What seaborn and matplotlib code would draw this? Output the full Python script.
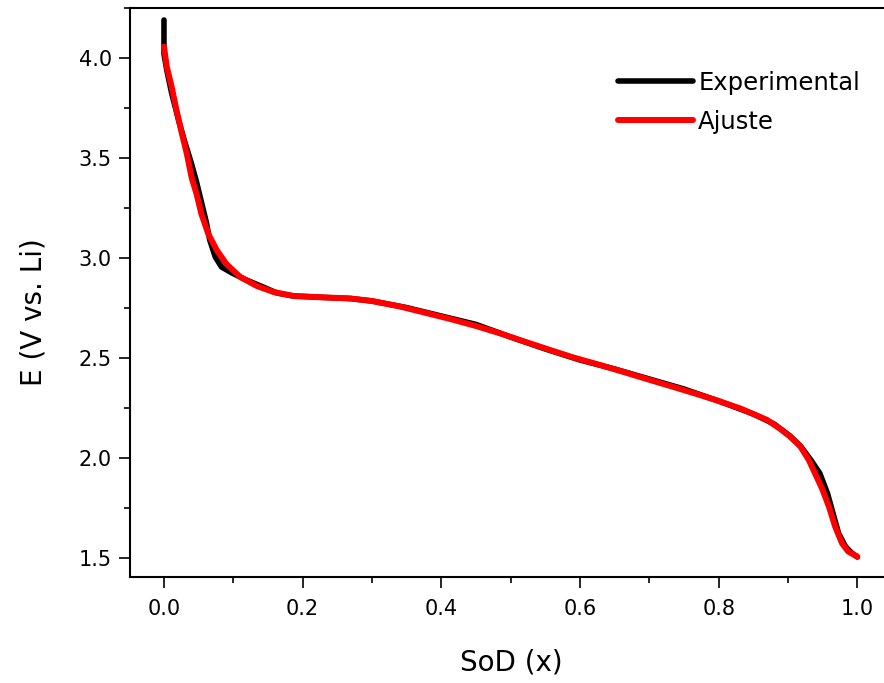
import matplotlib
matplotlib.use("Agg")
import matplotlib.pyplot as plt
from matplotlib.ticker import MultipleLocator, FormatStrFormatter
import pandas as pd
import seaborn as sns

# Discharge curve: measured data and fitted model
sod_exp = [0.0, 0.0, 0.004, 0.011, 0.021, 0.030, 0.039, 0.047, 0.054, 0.061,
           0.066, 0.074, 0.083, 0.098, 0.119, 0.143, 0.163, 0.187, 0.23, 0.27,
           0.30, 0.35, 0.40, 0.45, 0.50, 0.55, 0.60, 0.65, 0.70, 0.75, 0.80,
           0.85, 0.88, 0.903, 0.918, 0.933, 0.946, 0.957, 0.965, 0.973, 0.983,
           0.992, 1.0]
e_exp = [4.19, 4.02, 3.94, 3.825, 3.69, 3.58, 3.48, 3.38, 3.28, 3.18,
         3.09, 3.005, 2.955, 2.925, 2.89, 2.855, 2.825, 2.81, 2.803, 2.797,
         2.785, 2.752, 2.71, 2.668, 2.605, 2.545, 2.49, 2.445, 2.395, 2.345, 2.285,
         2.22, 2.17, 2.11, 2.06, 1.99, 1.923, 1.823, 1.723, 1.623, 1.557,
         1.525, 1.505]

sod_fit = [0.0, 0.004, 0.011, 0.018, 0.026, 0.033, 0.040, 0.047, 0.054, 0.064,
           0.076, 0.090, 0.110, 0.134, 0.158, 0.187, 0.23, 0.268, 0.30, 0.341,
           0.413, 0.45, 0.485, 0.52, 0.557, 0.59, 0.629, 0.665, 0.701, 0.737,
           0.773, 0.80, 0.831, 0.870, 0.889, 0.903, 0.918, 0.930, 0.939, 0.949,
           0.959, 0.968, 0.978, 0.987, 1.0]
e_fit = [4.057, 3.957, 3.857, 3.74, 3.62, 3.52, 3.40, 3.32, 3.22, 3.12,
         3.04, 2.97, 2.905, 2.86, 2.83, 2.81, 2.803, 2.798, 2.785, 2.757,
         2.695, 2.66, 2.623, 2.582, 2.54, 2.503, 2.465, 2.428, 2.39, 2.353,
         2.315, 2.285, 2.248, 2.19, 2.145, 2.107, 2.057, 1.99, 1.923, 1.848,
         1.757, 1.657, 1.573, 1.532, 1.507]

series_names = ["Experimental", "Ajuste"]
series_colors = ["#000000", "#ff0000"]
series_widths = [4.0, 4.3]

df = pd.concat([
    pd.DataFrame({"SoD": sod_exp, "E": e_exp, "serie": series_names[0]}),
    pd.DataFrame({"SoD": sod_fit, "E": e_fit, "serie": series_names[1]}),
], ignore_index=True)

sns.set_style("ticks")
plt.rcParams["font.family"] = ["DejaVu Sans"]
plt.rcParams["text.color"] = "black"
plt.rcParams["axes.labelcolor"] = "black"
plt.rcParams["xtick.color"] = "black"
plt.rcParams["ytick.color"] = "black"

fig = plt.figure(figsize=(8.84, 6.83), dpi=100)
ax = fig.add_axes([130 / 884, 106 / 683, 762 / 884, 569 / 683])

sns.lineplot(data=df, x="SoD", y="E", hue="serie", hue_order=series_names,
             palette=dict(zip(series_names, series_colors)), estimator=None,
             sort=False, linewidth=4, ax=ax)
for line, lw in zip(ax.get_lines(), series_widths):
    line.set_linewidth(lw)
    line.set_solid_capstyle("round")
    line.set_solid_joinstyle("round")

ax.set_xlim(-0.049, 1.05)
ax.set_ylim(1.405, 4.25)
ax.xaxis.set_major_locator(MultipleLocator(0.2))
ax.xaxis.set_minor_locator(MultipleLocator(0.1))
ax.yaxis.set_major_locator(MultipleLocator(0.5))
ax.yaxis.set_minor_locator(MultipleLocator(0.25))
ax.xaxis.set_major_formatter(FormatStrFormatter("%.1f"))
ax.yaxis.set_major_formatter(FormatStrFormatter("%.1f"))

for side in ["left", "bottom", "top"]:
    ax.spines[side].set_visible(True)
    ax.spines[side].set_linewidth(1.5)
    ax.spines[side].set_color("black")
ax.spines["right"].set_visible(False)

ax.tick_params(which="major", direction="out", length=8, width=1.2,
               labelsize=15, colors="black", labelcolor="black")
ax.tick_params(which="minor", direction="out", length=4.5, width=1.2)
ax.tick_params(axis="y", which="major", pad=5)
ax.tick_params(axis="x", which="major", pad=8)
ax.tick_params(top=False, right=False, which="both")

ax.set_xlabel("SoD (x)", fontsize=20, color="black")
ax.set_ylabel("E (V vs. Li)", fontsize=20, color="black")
ax.xaxis.set_label_coords(0.5, -0.125)
ax.yaxis.set_label_coords(-0.108, 0.466)

leg = ax.legend(loc="upper left", bbox_to_anchor=(0.6404, 0.890),
                frameon=False, fontsize=17.5, borderaxespad=0, borderpad=0,
                handlelength=3.1, handletextpad=0.2, labelspacing=0.62)
for text in leg.get_texts():
    text.set_color("black")
for line, lw in zip(leg.get_lines(), series_widths):
    line.set_linewidth(lw)
    line.set_solid_capstyle("round")

fig.savefig("out.png", dpi=100)
